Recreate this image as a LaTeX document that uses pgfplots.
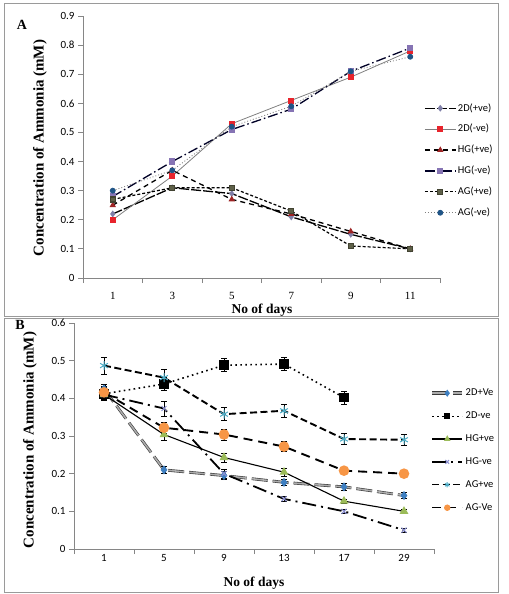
\documentclass[border=0pt]{standalone}
\usepackage{pgfplots}
\pgfplotsset{compat=1.18}
\usepackage{fontspec}
\setmainfont{Liberation Serif}
\newfontfamily\calib{Carlito}
\usetikzlibrary{plotmarks}

\definecolor{axisgray}{HTML}{868686}
\definecolor{framegray}{HTML}{9A9A9A}
\definecolor{dmgray}{HTML}{7F7FA8}
\definecolor{sqred}{HTML}{E8242C}
\definecolor{starred}{HTML}{9E2424}
\definecolor{hgpurple}{HTML}{8674B4}
\definecolor{olivesq}{HTML}{5E6048}
\definecolor{agblue}{HTML}{1F5486}
\definecolor{dblue}{HTML}{3E7FC1}
\definecolor{tgreen}{HTML}{9BBB59}
\definecolor{xlilac}{HTML}{8A8FD0}
\definecolor{acyan}{HTML}{4BACC6}
\definecolor{aorange}{HTML}{F79646}

\pgfplotsset{
  panel/.style={
    scale only axis,
    axis lines=left,
    axis line style={-, draw=axisgray, line width=0.8bp},
    tick style={draw=axisgray, line width=0.8bp},
    tick align=outside,
    major tick length=5bp,
    xmin=-0.5, xmax=5.5,
    xtick={-0.5,0.5,1.5,2.5,3.5,4.5,5.5},
    xticklabels={},
    extra x ticks={0,1,2,3,4,5},
    extra x tick style={major tick length=0pt},
    yticklabel style={font=\calib\fontsize{11bp}{12bp}\selectfont},
    /pgf/number format/assume math mode=true,
    /pgf/number format/fixed,
    /pgf/number format/precision=1,
    clip=false,
    legend cell align=left,
  },
  ebar/.style={
    error bars/.cd, y dir=both, y explicit,
    error bar style={solid, black, line width=0.7bp},
    error mark options={solid, black, rotate=90, mark size=2.8bp, line width=0.7bp},
  },
}

\begin{document}
\begin{tikzpicture}
\path[use as bounding box] (0bp,0bp) rectangle (509bp,-594bp);
\draw[framegray, line width=1bp] (4bp,-3bp) rectangle (498bp,-316bp);
\draw[framegray, line width=1bp] (4bp,-318bp) rectangle (498bp,-592bp);

% ---------------- Panel A
\begin{axis}[panel,
  at={(83bp,-278bp)}, anchor=south west,
  width=357bp, height=262bp,
  ymin=0, ymax=0.9,
  ytick={0,0.1,0.2,0.3,0.4,0.5,0.6,0.7,0.8,0.9},
  extra x tick labels={1,3,5,7,9,11},
  xticklabel style={font=\fontsize{11bp}{12bp}\selectfont, yshift=-11bp},
  legend image code/.code={
    \draw[mark repeat=2, mark phase=2, #1]
      plot coordinates {(0bp,0bp) (15.5bp,0bp) (31bp,0bp)};
  },
  legend style={at={(rel axis cs:0.955,0.4485)}, anchor=west, draw=none,
    fill=none, inner sep=0pt, row sep=8.4bp,
    font=\calib\fontsize{10.5bp}{12bp}\selectfont,
    nodes={inner sep=1.5bp, text height=7.5bp, text depth=2bp}},
]
\addplot[black, line width=1.3bp, dash pattern=on 10bp off 2bp,
  mark=diamond*, mark size=2.4bp, mark options={solid, fill=dmgray, draw=dmgray}]
  coordinates {(0,0.22) (1,0.31) (2,0.29) (3,0.21) (4,0.15) (5,0.10)};
\addlegendentry{2D(+ve)}
\addplot[gray, line width=0.8bp,
  mark=square*, mark size=2.5bp, mark options={solid, fill=sqred, draw=sqred}]
  coordinates {(0,0.20) (1,0.35) (2,0.53) (3,0.61) (4,0.69) (5,0.78)};
\addlegendentry{2D(-ve)}
\addplot[black, line width=1.3bp, dash pattern=on 5bp off 4bp,
  mark=triangle*, mark size=2.4bp, mark options={solid, fill=starred, draw=starred}]
  coordinates {(0,0.25) (1,0.37) (2,0.27) (3,0.22) (4,0.16) (5,0.10)};
\addlegendentry{HG(+ve)}
\addplot[black!85!blue, line width=1.3bp, dash pattern=on 10bp off 3bp on 1.5bp off 3bp,
  mark=square*, mark size=2.5bp, mark options={solid, fill=hgpurple, draw=hgpurple}]
  coordinates {(0,0.28) (1,0.40) (2,0.51) (3,0.58) (4,0.71) (5,0.79)};
\addlegendentry{HG(-ve)}
\addplot[black, line width=1.2bp, dash pattern=on 3bp off 2bp,
  mark=square*, mark size=2.5bp, mark options={solid, fill=olivesq, draw=olivesq!70!black}]
  coordinates {(0,0.27) (1,0.31) (2,0.31) (3,0.23) (4,0.11) (5,0.10)};
\addlegendentry{AG(+ve)}
\addplot[gray, line width=0.8bp, dash pattern=on 1bp off 2bp,
  mark=*, mark size=2.5bp, mark options={solid, fill=agblue, draw=agblue}]
  coordinates {(0,0.30) (1,0.37) (2,0.52) (3,0.59) (4,0.71) (5,0.76)};
\addlegendentry{AG(-ve)}
\end{axis}

% ---------------- Panel B
\begin{axis}[panel,
  at={(74bp,-549bp)}, anchor=south west,
  width=360bp, height=226bp,
  ymin=0, ymax=0.6,
  ytick={0,0.1,0.2,0.3,0.4,0.5,0.6},
  extra x tick labels={1,5,9,13,17,29},
  xticklabel style={font=\calib\fontsize{11bp}{12bp}\selectfont, yshift=-2bp},
  legend image code/.code={
    \draw[mark repeat=2, mark phase=2, #1, mark size=2.6bp, line width=1.2bp]
      plot coordinates {(0bp,0bp) (15bp,0bp) (30bp,0bp)};
  },
  legend style={at={(rel axis cs:0.989,0.436)}, anchor=west, draw=none,
    fill=none, inner sep=0pt, row sep=10.4bp,
    font=\calib\fontsize{10.5bp}{12bp}\selectfont,
    nodes={inner sep=1.5bp, text height=7.5bp, text depth=2bp}},
]
\addplot[draw=gray!45!black, double=gray!65, double distance=1.6bp,
  line width=0.6bp, dash pattern=on 16bp off 5bp,
  mark=diamond*, mark size=4bp, mark options={solid, fill=dblue, draw=dblue},
  ebar]
  coordinates {(0,0.425) +- (0,0.012) (1,0.21) +- (0,0.01) (2,0.195) +- (0,0.01)
    (3,0.177) +- (0,0.008) (4,0.165) +- (0,0.008) (5,0.142) +- (0,0.008)};
\addlegendentry{2D+Ve}
\addplot[black, line width=1.6bp, dash pattern=on 1.6bp off 3.4bp,
  mark=square*, mark size=4bp, mark options={solid, fill=black},
  ebar]
  coordinates {(0,0.412) +- (0,0.017) (1,0.438) +- (0,0.017) (2,0.488) +- (0,0.017)
    (3,0.491) +- (0,0.017) (4,0.402) +- (0,0.017)};
\addlegendentry{2D-ve}
\addplot[black, line width=1.1bp,
  mark=triangle*, mark size=4bp, mark options={solid, fill=tgreen, draw=tgreen},
  ebar]
  coordinates {(0,0.41) +- (0,0.012) (1,0.304) +- (0,0.015) (2,0.243) +- (0,0.012)
    (3,0.204) +- (0,0.01) (4,0.127) +- (0,0.006) (5,0.10) +- (0,0.006)};
\addlegendentry{HG+ve}
\addplot[black, line width=1.8bp, dash pattern=on 14bp off 5bp on 2bp off 5bp,
  mark=x, mark size=3.5bp, mark options={solid, draw=xlilac, line width=1bp},
  ebar]
  coordinates {(0,0.41) +- (0,0.01) (1,0.373) +- (0,0.02) (2,0.20) +- (0,0.012)
    (3,0.133) +- (0,0.006) (4,0.10) +- (0,0.005) (5,0.05) +- (0,0.005)};
\addlegendentry{HG-ve}
\addplot[black, line width=1.9bp, dash pattern=on 7bp off 3.5bp,
  mark=asterisk, mark size=4.5bp, mark options={solid, draw=acyan, line width=1bp},
  ebar]
  coordinates {(0,0.487) +- (0,0.022) (1,0.455) +- (0,0.022) (2,0.358) +- (0,0.017)
    (3,0.367) +- (0,0.017) (4,0.292) +- (0,0.014) (5,0.29) +- (0,0.014)};
\addlegendentry{AG+ve}
\addplot[black, line width=1.9bp, dash pattern=on 9bp off 6bp,
  mark=*, mark size=4.3bp, mark options={solid, fill=aorange, draw=aorange},
  ebar]
  coordinates {(0,0.416) +- (0,0.015) (1,0.322) +- (0,0.015) (2,0.304) +- (0,0.015)
    (3,0.272) +- (0,0.013) (4,0.208) +- (0,0.01) (5,0.20) +- (0,0.01)};
\addlegendentry{AG-Ve}
\end{axis}

% ---------------- labels
\node[font=\bfseries\fontsize{14bp}{16bp}\selectfont] at (22bp,-25bp) {A};
\node[font=\bfseries\fontsize{14bp}{16bp}\selectfont] at (20bp,-325bp) {B};
\node[rotate=90, font=\bfseries\fontsize{15bp}{17bp}\selectfont] at (40bp,-148bp)
  {Concentration of Ammonia (mM)};
\node[font=\bfseries\fontsize{13.5bp}{15bp}\selectfont] at (262bp,-310bp) {No of days};
\node[rotate=90, font=\bfseries\fontsize{15bp}{17bp}\selectfont] at (30bp,-440bp)
  {Concentration of Ammonia (mM)};
\node[font=\bfseries\fontsize{13.5bp}{15bp}\selectfont] at (254bp,-583bp) {No of days};
\end{tikzpicture}
\end{document}
